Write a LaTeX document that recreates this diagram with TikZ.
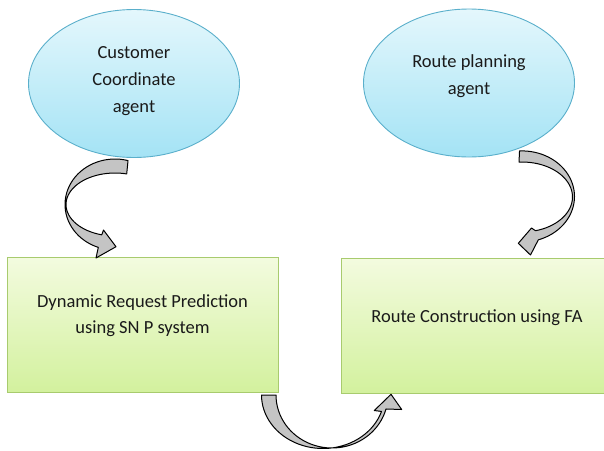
\documentclass[tikz,border=0pt]{standalone}
\usepackage{fontspec}
\setmainfont{Carlito}
\usetikzlibrary{shapes.geometric}

\definecolor{agentline}{HTML}{5AAFCB}
\definecolor{agenttop}{HTML}{E4F7FC}
\definecolor{agentbot}{HTML}{A4E3F5}
\definecolor{procline}{HTML}{A8CB6E}
\definecolor{proctop}{HTML}{F3FBDF}
\definecolor{procbot}{HTML}{D3F19E}
\definecolor{arrowfill}{HTML}{C4C4C4}
\definecolor{ink}{HTML}{1A1A1A}

\tikzset{
  agent/.style={ellipse, draw=agentline, line width=0.9pt,
    top color=agenttop, bottom color=agentbot,
    minimum width=211pt, minimum height=148pt, inner sep=0pt},
  procbox/.style={rectangle, draw=procline, line width=0.9pt,
    top color=proctop, bottom color=procbot,
    minimum width=271pt, minimum height=135pt, inner sep=0pt},
  caption/.style={align=center, text=ink, inner sep=0pt,
    font=\fontsize{18.5}{26.5}\selectfont},
  blockarrow/.style={draw=black, fill=arrowfill, line width=1pt,
    line join=round},
  band/.style={samples=40, variable=\t}
}

\begin{document}
\begin{tikzpicture}[x=1pt, y=-1pt]
\useasboundingbox (0,0) rectangle (604,450);
\clip (0,0) rectangle (604,450);

% agents
\node[agent] (cust) at (134,83.5) {};
\node[caption, font=\fontsize{18.5}{27}\selectfont] (custtext) at (134,81) {Customer\\Coordinate\\agent};
\node[agent] (route) at (469,83) {};
\node[caption, font=\fontsize{18.5}{27}\selectfont] (routetext) at (469,76) {Route planning\\agent};

% processing steps
\node[procbox] (predict) at (142.5,324.5) {};
\node[caption] (predicttext) at (142.5,315.5) {Dynamic Request Prediction\\using SN P system};
\node[procbox, minimum width=272pt] (build) at (477,325.5) {};
\node[caption] (buildtext) at (477,318) {Route Construction using FA};

% curved arrow: customer agent -> prediction (two elliptic arcs, common centre)
\filldraw[blockarrow]
  plot[band, domain=285.1:109.5] ({115+50*cos(\t)}, {204.5+45.5*sin(\t)})
  -- (96,258) -- (116,246.7) -- (103.5,230)
  -- plot[band, domain=105.7:283.8] ({115+49*cos(\t)}, {204.5+31.5*sin(\t)})
  -- cycle;

% curved arrow: route planning agent -> route construction
\filldraw[blockarrow]
  plot[band, domain=267.3:431.9] ({522+52.5*cos(\t)}, {196.5+45.6*sin(\t)})
  -- (530.5,255) -- (518.3,243.3) -- (531.5,228)
  -- plot[band, domain=434.5:266.6] ({522+50.5*cos(\t)}, {197+35*sin(\t)})
  -- cycle;

% curved arrow: prediction -> route construction
\filldraw[blockarrow]
  plot[band, domain=180:17.9] ({323+61.5*cos(\t)}, {395+53.5*sin(\t)})
  -- (374.3,410.5) -- (391,394.3) -- (401.7,409.5)
  -- plot[band, domain=15.3:180] ({332+56*cos(\t)}, {395+53*sin(\t)})
  -- cycle;
\end{tikzpicture}
\end{document}
